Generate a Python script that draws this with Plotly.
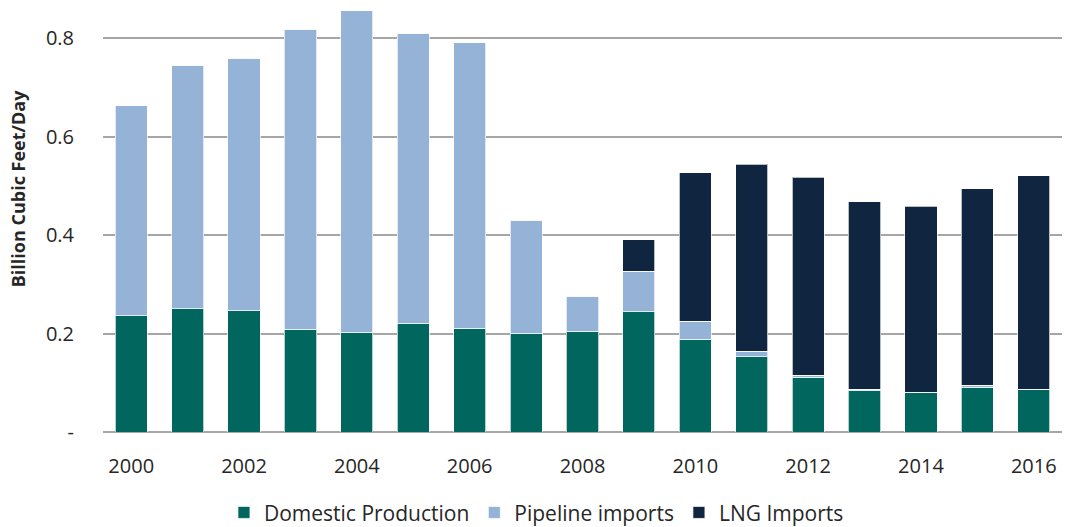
import plotly.graph_objects as go

years = [str(y) for y in range(2000, 2017)]
domestic = [0.236, 0.250, 0.246, 0.209, 0.203, 0.221, 0.211, 0.201, 0.205, 0.244,
            0.188, 0.153, 0.111, 0.084, 0.080, 0.091, 0.086]
pipeline = [0.426, 0.495, 0.513, 0.609, 0.652, 0.589, 0.579, 0.229, 0.071, 0.082,
            0.037, 0.011, 0.004, 0.003, 0.001, 0.004, 0.001]
lng = [0.0, 0.0, 0.0, 0.0, 0.0, 0.0, 0.0, 0.0, 0.0, 0.064,
       0.301, 0.380, 0.402, 0.381, 0.377, 0.399, 0.433]

ytick_vals = [0, 0.2, 0.4, 0.6, 0.8]
ytick_text = ["-", "0.2", "0.4", "0.6", "0.8"]
xtick_vals = [str(y) for y in range(2000, 2017, 2)]

font_family = "Open Sans, Noto Sans, sans-serif"

fig = go.Figure()
series = [
    ("Domestic Production", domestic, "#00665E"),
    ("Pipeline imports", pipeline, "#95B3D7"),
    ("LNG Imports", lng, "#10253F"),
]
for name, vals, color in series:
    fig.add_trace(go.Bar(
        x=years, y=vals, name=name,
        marker=dict(color=color, line=dict(color="rgba(255,255,255,0.7)", width=1)),
    ))

fig.update_layout(
    barmode="stack",
    bargap=0.43,
    width=1067, height=527,
    margin=dict(l=103, r=5, t=5, b=95),
    plot_bgcolor="white", paper_bgcolor="white",
    font=dict(family=font_family, size=19, color="#262626"),
    showlegend=True,
    legend=dict(orientation="h", x=0.452, xanchor="center",
                yref="container", y=0.027, yanchor="middle",
                font=dict(size=21, color="#262626"), traceorder="normal",
                tracegroupgap=0),
    xaxis=dict(
        type="category", tickmode="array", tickvals=xtick_vals, ticktext=xtick_vals,
        showgrid=False, showline=False, ticks="", ticklabelstandoff=20,
        tickfont=dict(size=20),
    ),
    yaxis=dict(
        range=[0, 0.867], tickmode="array", tickvals=ytick_vals, ticktext=ytick_text,
        showgrid=True, gridcolor="#A6A6A6", gridwidth=1.5, zeroline=True,
        zerolinecolor="#A6A6A6", zerolinewidth=1.5, showline=False, ticks="",
        ticklabelstandoff=28, tickfont=dict(size=20),
    ),
    annotations=[dict(
        text="<b>Billion Cubic Feet/Day</b>", textangle=-90, showarrow=False,
        xref="paper", yref="paper", x=-0.089, y=0.57, xanchor="center", yanchor="middle",
        font=dict(size=18, color="#262626"),
    )],
)

fig.write_html("out.html")
